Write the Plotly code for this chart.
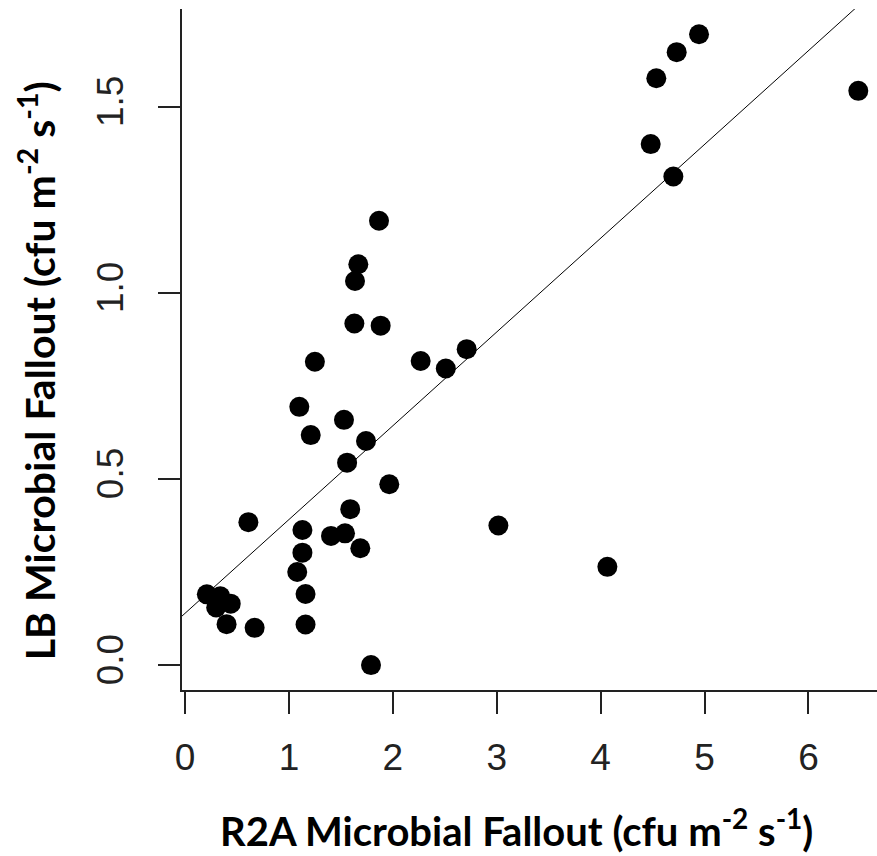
import plotly.graph_objects as go
import numpy as np

# Data
r2a = [0.21, 0.34, 0.30, 0.44, 0.40, 0.61, 0.67, 1.08, 1.10, 1.13,
       1.13, 1.16, 1.16, 1.21, 1.25, 1.405, 1.53, 1.54, 1.56, 1.59,
       1.63, 1.636, 1.668, 1.687, 1.742, 1.79, 1.867, 1.883, 1.966, 2.268,
       2.51, 2.711, 3.016, 4.065, 4.482, 4.536, 4.70, 4.732, 4.947, 6.48]
lb = [0.19, 0.185, 0.155, 0.165, 0.11, 0.384, 0.10, 0.25, 0.694, 0.363,
      0.302, 0.191, 0.109, 0.618, 0.815, 0.347, 0.659, 0.354, 0.544, 0.419,
      0.918, 1.032, 1.077, 0.314, 0.602, 0.0, 1.194, 0.912, 0.486, 0.817,
      0.797, 0.849, 0.375, 0.264, 1.40, 1.577, 1.313, 1.647, 1.695, 1.543]

# Regression line coefficients
fit_intercept = 0.139
fit_slope = 0.252

x_ticks = [0, 1, 2, 3, 4, 5, 6]
x_tick_labels = ["0", "1", "2", "3", "4", "5", "6"]
y_ticks = [0.0, 0.5, 1.0, 1.5]
y_tick_labels = ["0.0", "0.5", "1.0", "1.5"]

x_range = [-0.029, 6.66]
y_range = [-0.067, 1.763]

line_x = np.array(x_range)
line_y = fit_intercept + fit_slope * line_x

fig = go.Figure()
fig.add_trace(go.Scatter(x=line_x, y=line_y, mode="lines",
                         line=dict(color="black", width=1),
                         hoverinfo="skip", showlegend=False))
fig.add_trace(go.Scatter(x=r2a, y=lb, mode="markers",
                         marker=dict(color="black", size=20, line=dict(width=0)),
                         showlegend=False))

tick_font = dict(family="Liberation Sans, Arial, sans-serif", size=37, color="#222")
fig.update_xaxes(range=x_range, tickvals=x_ticks, ticktext=x_tick_labels,
                 showline=True, linecolor="#222", linewidth=1.5, mirror=False,
                 ticks="outside", ticklen=22, tickwidth=1.5, tickcolor="#222",
                 showgrid=False, zeroline=False, tickfont=tick_font,
                 ticklabelstandoff=12)
fig.update_yaxes(range=y_range, tickvals=y_ticks, ticktext=y_tick_labels,
                 showline=True, linecolor="#222", linewidth=1.5, mirror=False,
                 ticks="outside", ticklen=22, tickwidth=1.5, tickcolor="#222",
                 showgrid=False, zeroline=False, tickfont=tick_font,
                 tickangle=-90, ticklabelstandoff=20)

fig.add_annotation(text="<b>R2A Microbial Fallout (cfu m<sup>-2</sup> s<sup>-1</sup>)</b>",
                   xref="paper", yref="paper", x=0.482, y=-0.2026,
                   xanchor="center", yanchor="middle", showarrow=False,
                   font=dict(family="Lato, Open Sans, sans-serif", size=40, color="black"))
fig.add_annotation(text="<b>LB Microbial Fallout (cfu m<sup>-2</sup> s<sup>-1</sup>)</b>",
                   xref="paper", yref="paper", x=-0.209, y=0.469,
                   xanchor="center", yanchor="middle", showarrow=False,
                   textangle=-90,
                   font=dict(family="Lato, Open Sans, sans-serif", size=41, color="black"))

fig.update_layout(width=877, height=856,
                  margin=dict(l=182, r=0, t=9, b=166),
                  plot_bgcolor="white", paper_bgcolor="white")

fig.write_html("out.html")
